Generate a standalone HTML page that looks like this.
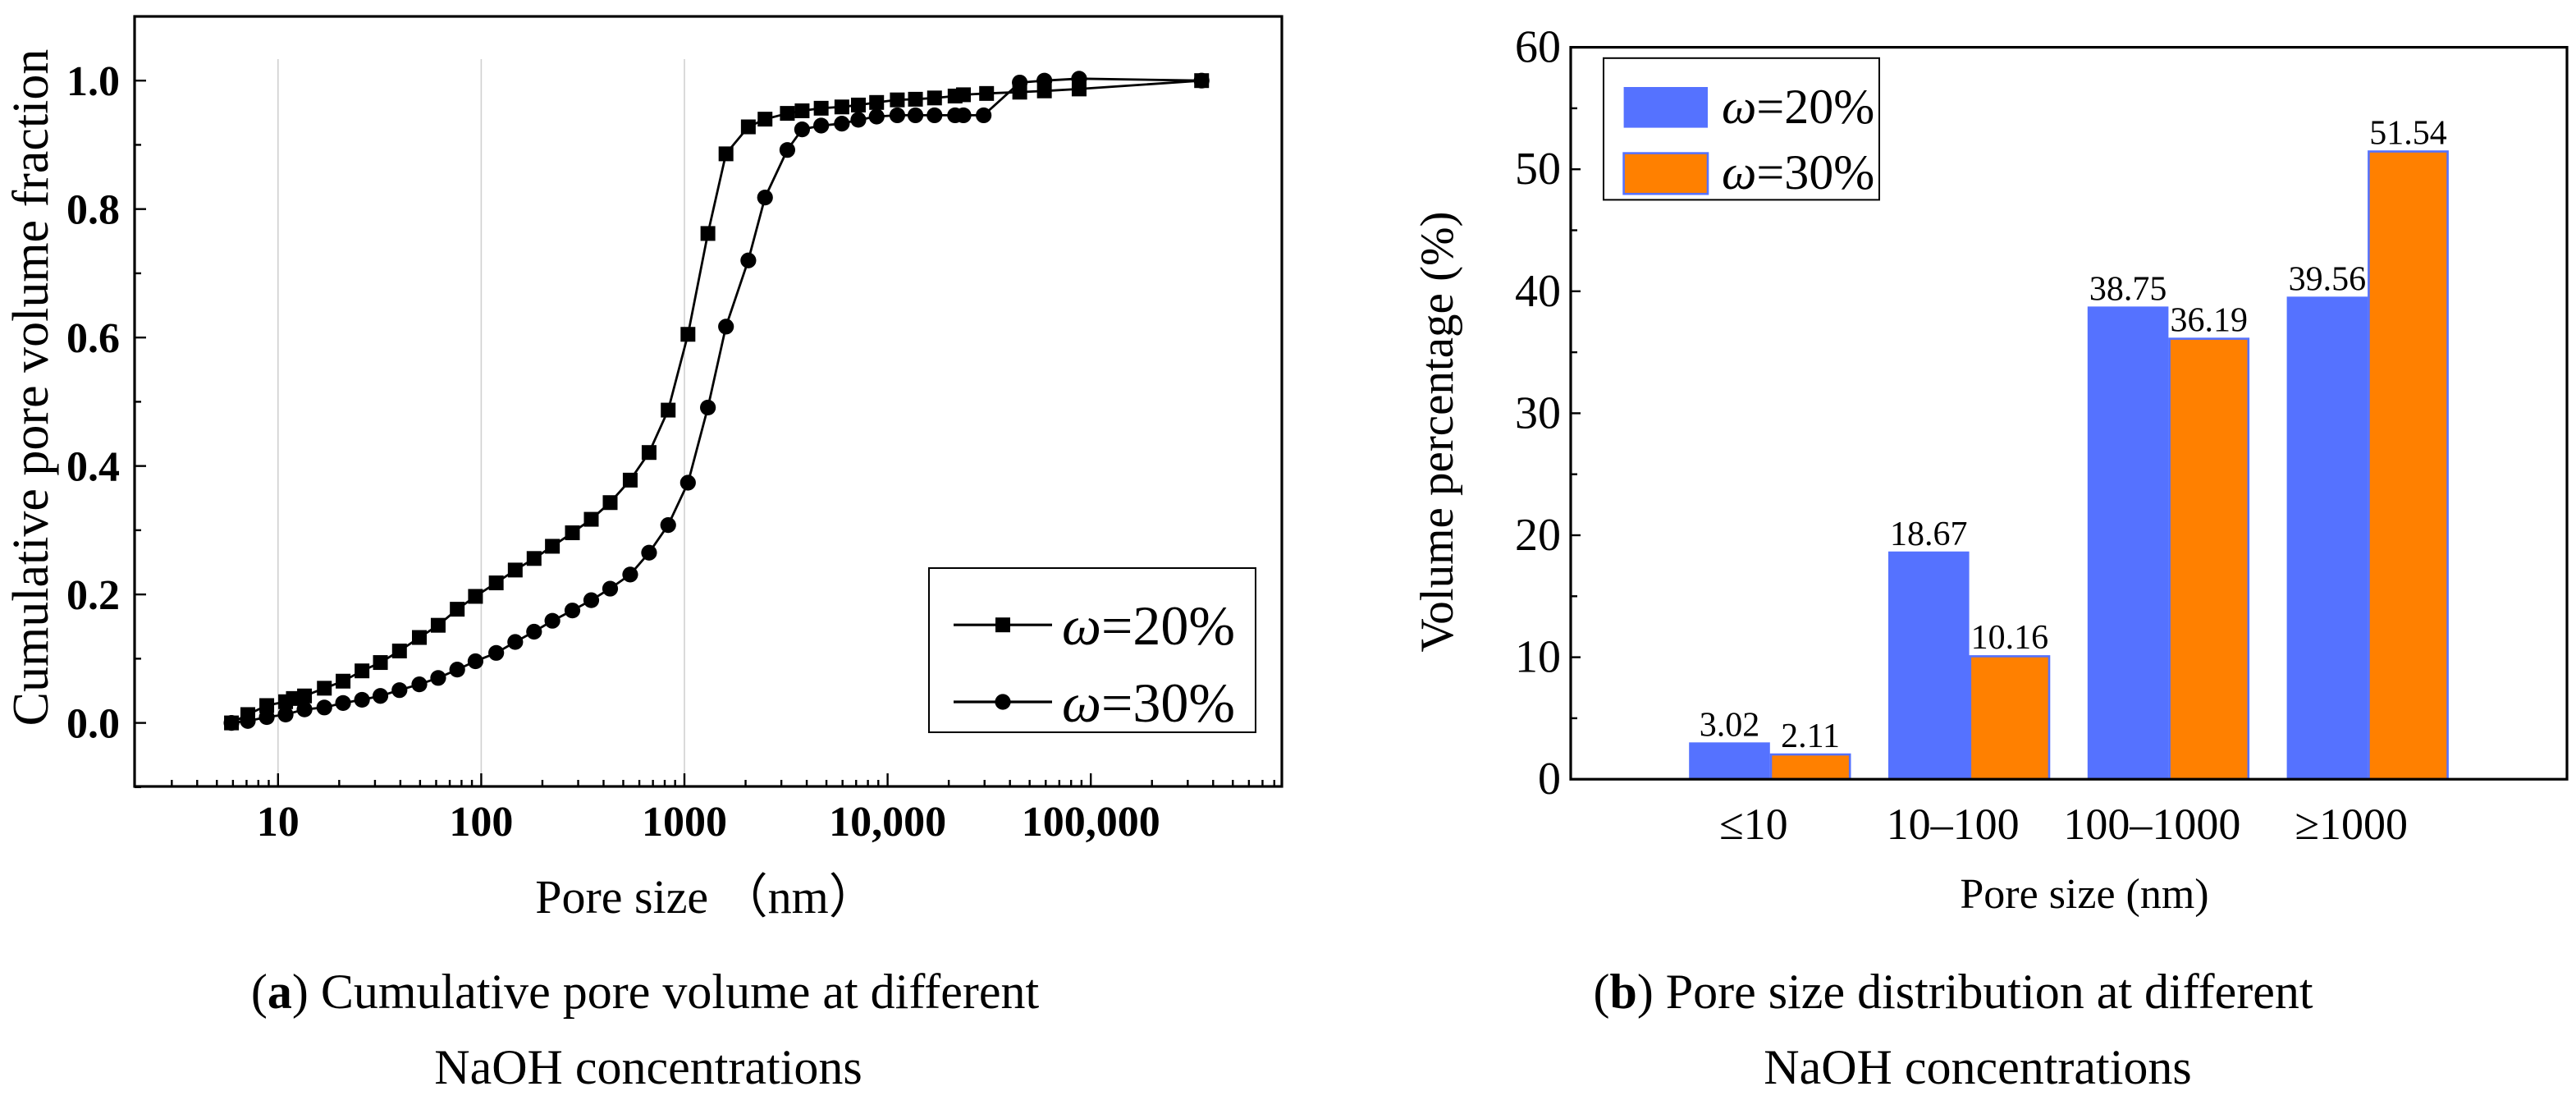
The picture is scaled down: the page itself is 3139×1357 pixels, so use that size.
<!DOCTYPE html>
<html><head><meta charset="utf-8"><style>
html,body{margin:0;padding:0;background:#fff;}
svg{display:block;}
text{font-family:"Liberation Serif",serif;}
</style></head><body>
<svg id="fig" width="3139" height="1357" viewBox="0 0 1569.5 678.5" xmlns="http://www.w3.org/2000/svg">
<rect x="0" y="0" width="1569.5" height="678.5" fill="#fff"/>
<g id="chartA"></g>
<g id="chartB"></g>
<text x="393" y="614" font-size="30" text-anchor="middle">(<tspan font-weight="bold">a</tspan>) Cumulative pore volume at different</text>
<text x="395" y="660" font-size="30" text-anchor="middle">NaOH concentrations</text>
<text x="1190" y="614" font-size="30" text-anchor="middle">(<tspan font-weight="bold">b</tspan>) Pore size distribution at different</text>
<text x="1205" y="660" font-size="30" text-anchor="middle">NaOH concentrations</text>
</svg>
<script>
// ---- Chart A data ----
const sqX = [5.9,7.1,8.8,10.9,11.9,13.5,16.9,20.9,25.9,31.9,39.6,49.6,61.4,76.2,93.7,118.5,147,182,224,281,348,431,541,670,832,1041,1305,1602,2063,2493,3210,3795,4710,5955,7180,8830,11160,13710,17020,21480,23620,30700,44700,59100,87600,351000];
const sqY = [0,0.013,0.027,0.033,0.038,0.042,0.054,0.065,0.081,0.094,0.112,0.133,0.152,0.177,0.197,0.218,0.238,0.256,0.275,0.296,0.317,0.343,0.378,0.421,0.487,0.605,0.762,0.886,0.928,0.940,0.949,0.953,0.957,0.959,0.962,0.966,0.970,0.971,0.973,0.976,0.978,0.980,0.982,0.984,0.987,1.0];
const ciX = [5.9,7.1,8.8,10.9,13.5,16.9,20.9,25.9,31.9,39.6,49.6,61.4,76.2,93.7,118.5,147,182,224,281,348,431,541,670,832,1041,1305,1602,2063,2493,3210,3795,4710,5955,7180,8830,11160,13710,17020,21480,23620,29700,44700,59100,87600,351000];
const ciY = [0,0.003,0.009,0.013,0.021,0.024,0.031,0.036,0.042,0.051,0.060,0.070,0.083,0.096,0.109,0.126,0.142,0.159,0.175,0.191,0.209,0.231,0.265,0.308,0.374,0.491,0.617,0.720,0.818,0.892,0.924,0.930,0.933,0.939,0.944,0.946,0.946,0.946,0.946,0.946,0.946,0.997,1.0,1.003,1.0];
const aYTicks = [0,0.2,0.4,0.6,0.8,1.0];
const aYTickLabels = ["0.0","0.2","0.4","0.6","0.8","1.0"];
const aXTicks = [10,100,1000,10000,100000];
const aXTickLabels = ["10","100","1000","10,000","100,000"];
// ---- Chart B data ----
const categories = ["≤10","10–100","100–1000","≥1000"];
const series20 = [3.02,18.67,38.75,39.56];
const series30 = [2.11,10.16,36.19,51.54];
const bYTicks = [0,10,20,30,40,50,60];

const NS="http://www.w3.org/2000/svg";
function mk(parent,tag,attrs,txt){const e=document.createElementNS(NS,tag);for(const k in attrs)e.setAttribute(k,attrs[k]);if(txt!==undefined)e.textContent=txt;parent.appendChild(e);return e;}

// ===== Chart A =====
const A=document.getElementById('chartA');
const aL=82,aR=781,aT=10,aB=479;
const ax=v=>169.4+(Math.log10(v)-1)*123.8;
const ay=v=>440.3-v*391.2;
[10,100,1000].forEach(v=>{
  const g=mk(A,'line',{x1:ax(v),x2:ax(v),y1:36,y2:aB,stroke:'#d0d0d0','stroke-width':0.8});
  
  
});
const frameA=mk(A,'rect',{x:aL,y:aT,width:aR-aL,height:aB-aT,fill:'none',stroke:'#000','stroke-width':1.6});


for(let d=0;d<=5;d++){for(let m=1;m<10;m++){const v=m*Math.pow(10,d);const x=ax(v);if(x<aL+2||x>aR-2)continue;
  const t=mk(A,'line',{x1:x,x2:x,y1:aB,y2:aB-(m===1?8:4),stroke:'#000','stroke-width':1.2});
  
  }}
aXTicks.forEach((v,i)=>{const t=mk(A,'text',{x:ax(v),y:509,'font-size':26,'font-weight':'bold','text-anchor':'middle'},aXTickLabels[i]);
  
  });
for(let k=-1;k<=11;k++){const v=k/10;const y=ay(v);const major=(k%2===0&&k>=0);
  const t=mk(A,'line',{x1:aL,x2:aL+(major?7:4),y1:y,y2:y,stroke:'#000','stroke-width':1.2});
  
  }
aYTicks.forEach((v,i)=>{const t=mk(A,'text',{x:73,y:ay(v)+9,'font-size':26,'font-weight':'bold','text-anchor':'end'},aYTickLabels[i]);
  
  });
const ayt=mk(A,'text',{x:0,y:0,'font-size':31,'text-anchor':'middle',transform:'translate(29,236) rotate(-90)'},'Cumulative pore volume fraction');


const axt=mk(A,'text',{x:430,y:556,'font-size':29,'text-anchor':'middle'},'Pore size （nm）');


function series(xs,ys,shape,name){
  const g=mk(A,'g',{});
  
  
  const pts=xs.map((x,i)=>ax(x).toFixed(1)+','+ay(ys[i]).toFixed(1)).join(' ');
  const pl=mk(g,'polyline',{points:pts,fill:'none',stroke:'#000','stroke-width':1.4});
  
  
  xs.forEach((x,i)=>{let m;
    if(shape==='sq'){m=mk(g,'rect',{x:ax(x)-4.5,y:ay(ys[i])-4.5,width:9,height:9,fill:'#000'});}
    else{m=mk(g,'circle',{cx:ax(x),cy:ay(ys[i]),r:4.8,fill:'#000'});}
    
    });
}
series(ciX,ciY,'ci','series-w30');
series(sqX,sqY,'sq','series-w20');
const lgA=mk(A,'g',{});


mk(lgA,'rect',{x:566,y:346,width:199,height:100,fill:'#fff',stroke:'#000','stroke-width':1});
[[380.6,'sq','20%'],[427.5,'ci','30%']].forEach(([y,s,lab])=>{
  const e=mk(lgA,'g',{});
  
  
  mk(e,'line',{x1:581,x2:641,y1:y,y2:y,stroke:'#000','stroke-width':1.6});
  if(s==='sq')mk(e,'rect',{x:606.5,y:y-4.5,width:9,height:9,fill:'#000'});else mk(e,'circle',{cx:611,cy:y,r:4.8,fill:'#000'});
  const t=mk(e,'text',{x:647,y:y+12,'font-size':34});
  mk(t,'tspan',{'font-style':'italic'},'ω');mk(t,'tspan',{},'='+lab);
});

// ===== Chart B =====
const B=document.getElementById('chartB');
const bL=957,bR=1564,bT=28.8,bB=474.6;
const bx=c=>bL+(c/5)*(bR-bL);
const by=v=>bB-(v/60)*(bB-bT);
const bw=49.3;
categories.forEach((c,i)=>{
  const cx=bx(i+1);
  const r1=mk(B,'rect',{x:cx-bw,y:by(series20[i]),width:bw,height:bB-by(series20[i]),fill:'#5572FF'});
  
  
  const r2=mk(B,'rect',{x:cx+0.6,y:by(series30[i])+0.6,width:bw-1.2,height:bB-by(series30[i])-0.6,fill:'#FF8000',stroke:'#5572FF','stroke-width':1.3});
  
  
  const l1=mk(B,'text',{x:cx-bw/2,y:by(series20[i])-4,'font-size':21,'text-anchor':'middle'},series20[i].toFixed(2));
  
  
  const l2=mk(B,'text',{x:cx+bw/2,y:by(series30[i])-4,'font-size':21,'text-anchor':'middle'},series30[i].toFixed(2));
  
  
  const cl=mk(B,'text',{x:cx-10,y:511,'font-size':27,'text-anchor':'middle'},c);
  
  
});
const frameB=mk(B,'rect',{x:bL,y:bT,width:bR-bL,height:bB-bT,fill:'none',stroke:'#000','stroke-width':1.6});


for(let v=5;v<60;v+=5){const major=v%10===0;
  const t=mk(B,'line',{x1:bL,x2:bL+(major?6:4),y1:by(v),y2:by(v),stroke:'#000','stroke-width':1.2});
  
  }
bYTicks.forEach(v=>{const t=mk(B,'text',{x:951,y:by(v)+9,'font-size':28,'text-anchor':'end'},String(v));
  
  });
const byt=mk(B,'text',{x:0,y:0,'font-size':28.5,'text-anchor':'middle',transform:'translate(885,263) rotate(-90)'},'Volume percentage (%)');


const bxt=mk(B,'text',{x:1270,y:553,'font-size':26,'text-anchor':'middle'},'Pore size (nm)');


const lgB=mk(B,'g',{});


mk(lgB,'rect',{x:977,y:35.4,width:168,height:86.3,fill:'#fff',stroke:'#000','stroke-width':1});
[[53,'#5572FF','20%',75,false],[93.3,'#FF8000','30%',115,true]].forEach(([y,col,lab,ty,br])=>{
  const e=mk(lgB,'g',{});
  
  
  mk(e,'rect',{x:989.3,y:y,width:51.2,height:24.8,fill:col,stroke:br?'#5572FF':'none','stroke-width':1.3});
  const t=mk(e,'text',{x:1049,y:ty,'font-size':30});
  mk(t,'tspan',{'font-style':'italic'},'ω');mk(t,'tspan',{},'='+lab);
});
</script>
</body></html>
